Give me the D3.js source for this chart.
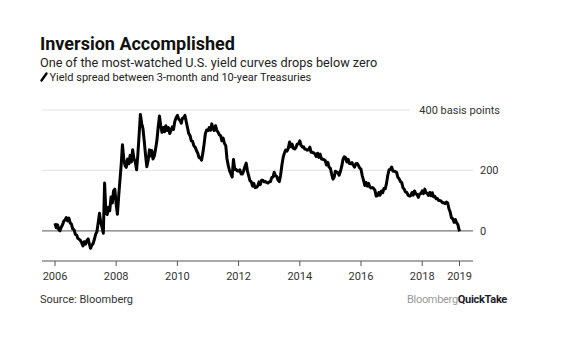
<!DOCTYPE html>
<html>
<head>
<meta charset="utf-8">
<script src="https://cdn.jsdelivr.net/npm/d3@7"></script>
<style>
  body { margin: 0; background: #fff; }
  svg { font-family: Roboto, "Liberation Sans", sans-serif; }
</style>
</head>
<body>
<svg id="chart" width="572" height="340"></svg>
<script>
// 3-month / 10-year Treasury spread, basis points, sampled on the 1st and 16th of each month
const startYear = 2006;
const endDate = new Date(2019, 2, 22);

const spread = [
  // 2006
  25, 10, 20, 3, 0, 12, 20, 32, 36, 44, 33, 42, 26, 22, 6, 4, -12, -14, -25, -28, -32, -40, -50, -36,
  // 2007
  -44, -33, -27, -45, -58, -48, -42, -28, -12, -3, 28, 58, 28, 12, -8, 158, 58, 54, 78, 66, 112, 92, 132, 138,
  // 2008
  88, 55, 118, 170, 218, 285, 238, 216, 210, 238, 222, 250, 228, 268, 238, 228, 202, 252, 318, 385, 355, 338, 298, 252,
  // 2009
  212, 232, 268, 248, 266, 238, 248, 272, 298, 342, 380, 348, 326, 342, 328, 348, 332, 342, 322, 332, 344, 336, 362, 374,
  // 2010
  382, 370, 366, 356, 372, 374, 382, 362, 342, 322, 315, 298, 296, 282, 277, 266, 257, 242, 242, 234, 258, 288, 322, 334,
  // 2011
  332, 342, 333, 354, 338, 332, 348, 333, 327, 318, 315, 298, 307, 290, 282, 238, 215, 198, 188, 178, 236, 203, 204, 198,
  // 2012
  198, 202, 188, 188, 198, 212, 224, 198, 182, 166, 162, 148, 157, 143, 144, 148, 162, 153, 167, 167, 162, 163, 160, 158,
  // 2013
  162, 163, 177, 178, 194, 183, 180, 168, 163, 183, 217, 243, 257, 267, 264, 273, 294, 278, 287, 273, 271, 276, 287, 288,
  // 2014
  298, 283, 277, 278, 271, 270, 267, 268, 277, 260, 260, 258, 254, 246, 257, 243, 254, 238, 237, 236, 232, 218, 227, 211,
  // 2015
  207, 188, 171, 178, 197, 195, 192, 184, 197, 213, 237, 245, 242, 228, 237, 223, 222, 226, 217, 211, 222, 223, 217, 208,
  // 2016
  204, 183, 167, 150, 160, 148, 157, 145, 142, 143, 140, 134, 115, 116, 127, 118, 132, 126, 140, 139, 157, 184, 202, 203,
  // 2017
  211, 198, 197, 196, 193, 178, 172, 163, 160, 143, 137, 128, 127, 118, 115, 116, 127, 118, 132, 123, 120, 111, 122, 123,
  // 2018
  132, 123, 138, 126, 124, 117, 127, 116, 126, 113, 114, 106, 107, 100, 100, 98, 93, 93, 90, 95, 92, 73, 62, 43,
  // 2019
  40, 28, 37, 26, 22, 5, -2
];

const yearTicks = [2006, 2008, 2010, 2012, 2014, 2016, 2018];
const valueTicks = [0, 200, 400];
const valueLabels = ['0', '200', '400 basis points'];

function sampleDate(i) {
  if (i === spread.length - 1) return endDate;
  const y = startYear + Math.floor(i / 24);
  const m = Math.floor((i % 24) / 2);
  return new Date(y, m, i % 2 ? 16 : 1);
}

const data = spread.map((v, i) => ({ date: sampleDate(i), value: v }));

const svg = d3.select('#chart');

const x = d3.scaleTime()
  .domain([new Date(startYear, 0, 1), endDate])
  .range([55, 459.5]);

const y = d3.scaleLinear()
  .domain([-100, 400])
  .range([261, 110]);

const left = 42, right = 473;

// titles
svg.append('text').attr('x', 40).attr('y', 50)
  .style('font-size', '18px').style('font-weight', 700).style('fill', '#111')
  .text('Inversion Accomplished');
svg.append('text').attr('x', 40).attr('y', 67)
  .style('font-size', '12.7px').style('fill', '#222')
  .text('One of the most-watched U.S. yield curves drops below zero');

// legend
svg.append('line')
  .attr('x1', 41.5).attr('y1', 80.5).attr('x2', 46.5).attr('y2', 73.5)
  .style('stroke', '#000').style('stroke-width', 2.4).style('stroke-linecap', 'round');
svg.append('text').attr('x', 49.5).attr('y', 81)
  .style('font-size', '11px').style('fill', '#222')
  .text('Yield spread between 3-month and 10-year Treasuries');

// gridlines
const grid = svg.append('g');
valueTicks.forEach((v, i) => {
  grid.append('line')
    .attr('x1', left).attr('x2', v === 400 ? 410 : right)
    .attr('y1', y(v)).attr('y2', y(v))
    .style('stroke', v === 0 ? '#777' : '#e2e2e2')
    .style('stroke-width', v === 0 ? 1.2 : 1);
  const t = grid.append('text')
    .attr('y', y(v)).attr('dy', '0.35em')
    .style('font-size', '11px').style('fill', '#333')
    .text(valueLabels[i]);
  if (v === 400) t.attr('x', 500).attr('text-anchor', 'end');
  else t.attr('x', 480);
});

// x axis
const ax = svg.append('g');
ax.append('line')
  .attr('x1', left).attr('x2', right).attr('y1', y(-100)).attr('y2', y(-100))
  .style('stroke', '#555').style('stroke-width', 1.2);
const tickDates = yearTicks.map(yr => ({ d: new Date(yr, 0, 1), label: String(yr) }))
  .concat([{ d: endDate, label: '2019' }]);
tickDates.forEach(t => {
  ax.append('line')
    .attr('x1', x(t.d)).attr('x2', x(t.d))
    .attr('y1', y(-100)).attr('y2', y(-100) + 5)
    .style('stroke', '#555');
  ax.append('text')
    .attr('x', x(t.d)).attr('y', 280).attr('text-anchor', 'middle')
    .style('font-size', '11px').style('fill', '#333')
    .text(t.label);
});

// series
const line = d3.line()
  .x(d => x(d.date))
  .y(d => y(d.value));

svg.append('path')
  .datum(data)
  .attr('d', line)
  .style('fill', 'none')
  .style('stroke', '#000')
  .style('stroke-width', 3)
  .style('stroke-linejoin', 'round');

// footer
svg.append('text').attr('x', 40).attr('y', 303)
  .style('font-size', '11px').style('fill', '#333')
  .text('Source: Bloomberg');
const brand = svg.append('text').attr('x', 507).attr('y', 303)
  .attr('text-anchor', 'end')
  .style('font-size', '11px').style('letter-spacing', '-0.3px');
brand.append('tspan').style('fill', '#9a9a9a').text('Bloomberg');
brand.append('tspan').style('fill', '#1c1c2c').style('font-weight', 700).text('QuickTake');
</script>
</body>
</html>
